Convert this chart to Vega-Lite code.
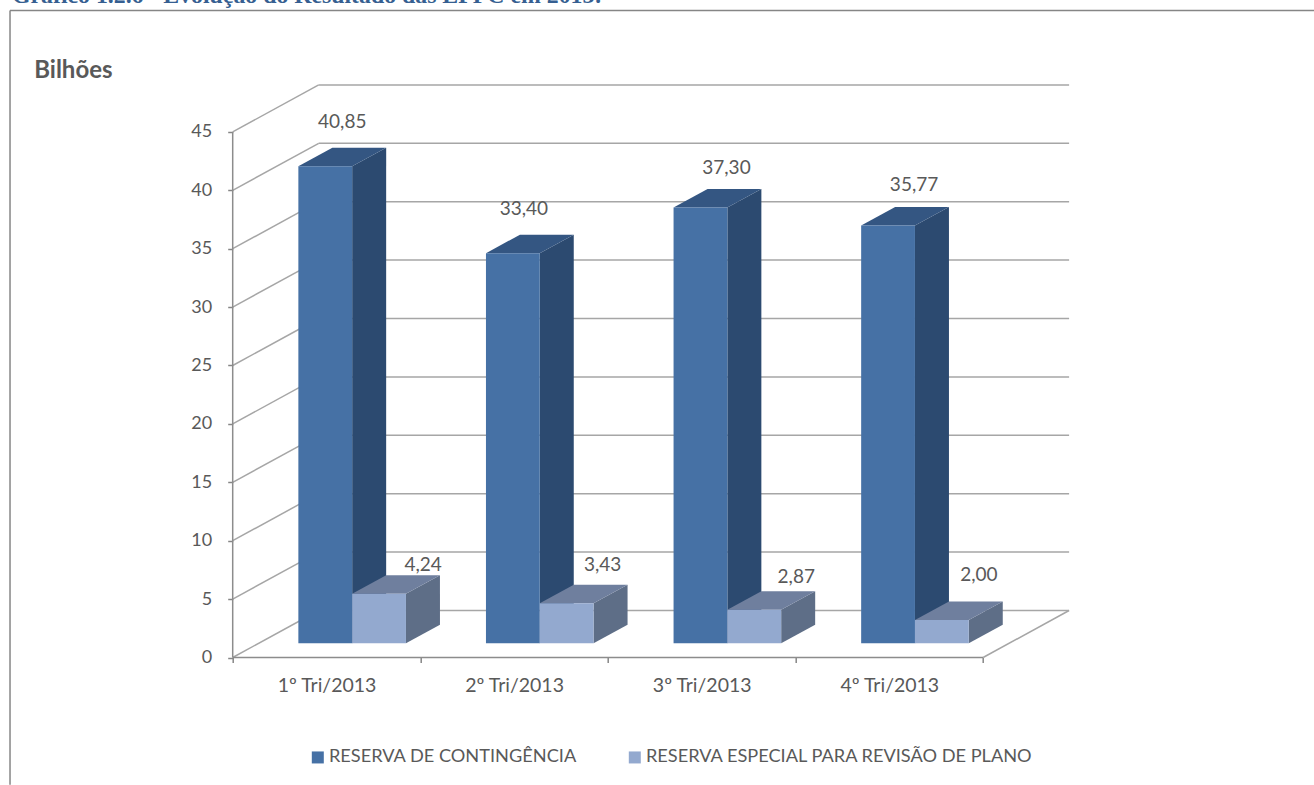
{
"$schema":"https://vega.github.io/schema/vega-lite/v6.json",
"width":837.3,"height":573.5,
"autosize":{"type":"none"},
"padding":{"left":232.7,"top":84,"right":244,"bottom":127.5},
"background":"white",
"config":{"view":{"stroke":null}},
"title":{"text":"Gráfico 1.2.6 - Evolução do Resultado das EFPC em 2013:","anchor":"start","frame":"group","dx":-220.7,"offset":2,"font":"Liberation Serif","fontSize":23.8,"fontWeight":"bold","color":"#365F91"},
"datasets":{
"barras":[
{"trimestre":"1º Tri/2013","serie":"RESERVA DE CONTINGÊNCIA","valor":40.85},
{"trimestre":"2º Tri/2013","serie":"RESERVA DE CONTINGÊNCIA","valor":33.40},
{"trimestre":"3º Tri/2013","serie":"RESERVA DE CONTINGÊNCIA","valor":37.30},
{"trimestre":"4º Tri/2013","serie":"RESERVA DE CONTINGÊNCIA","valor":35.77},
{"trimestre":"1º Tri/2013","serie":"RESERVA ESPECIAL PARA REVISÃO DE PLANO","valor":4.24},
{"trimestre":"2º Tri/2013","serie":"RESERVA ESPECIAL PARA REVISÃO DE PLANO","valor":3.43},
{"trimestre":"3º Tri/2013","serie":"RESERVA ESPECIAL PARA REVISÃO DE PLANO","valor":2.87},
{"trimestre":"4º Tri/2013","serie":"RESERVA ESPECIAL PARA REVISÃO DE PLANO","valor":2.00}
],
"grade":[{"v":0},{"v":5},{"v":10},{"v":15},{"v":20},{"v":25},{"v":30},{"v":35},{"v":40},{"v":45}]
},
"layer":[
{"data":{"name":"grade"},
 "mark":{"type":"rule","color":"#A6A6A6","strokeWidth":1.5,"x2Offset":86,"y2Offset":-47},
 "encoding":{
  "x":{"datum":0,"type":"quantitative","scale":{"domain":[0,4.4632],"nice":false,"zero":false},
   "axis":{"values":[0,0.5,1,1.5,2,2.5,3,3.5,4],"title":null,"domain":false,"grid":false,"tickSize":5,"tickWidth":1.5,"tickColor":"#868686",
    "tickOpacity":{"condition":{"test":"datum.value%1==0","value":1},"value":0},
    "labelExpr":"datum.value%1==0?'':(floor(datum.value)+1)+'º Tri/2013'","labelOverlap":false,"labelFlush":false,"labelPadding":14,"labelFont":"Lato","labelFontSize":19.5,"labelColor":"#595959"}},
  "x2":{"datum":0},
  "y":{"field":"v","type":"quantitative","scale":{"domain":[0,49.1],"nice":false,"zero":false},
   "axis":{"values":[0,5,10,15,20,25,30,35,40,45],"title":"Bilhões","titleX":-199,"titleY":-6.7,"titleAngle":0,"titleAlign":"left","titleBaseline":"alphabetic","titleFont":"Lato","titleFontSize":24,"titleFontWeight":"bold","titleColor":"#595959","domain":false,"grid":false,"tickSize":5,"tickWidth":1.5,"tickColor":"#868686","labelPadding":16,"labelFont":"Lato","labelFontSize":18,"labelColor":"#595959"}},
  "y2":{"field":"v"}
 }},
{"data":{"name":"grade"},
 "mark":{"type":"rule","color":"#A6A6A6","strokeWidth":1.5,"xOffset":86,"x2Offset":86,"yOffset":-47,"y2Offset":-47},
 "encoding":{"x":{"datum":0,"type":"quantitative"},"x2":{"datum":4},"y":{"field":"v","type":"quantitative"},"y2":{"field":"v"}}},
{"mark":{"type":"rule","color":"#A6A6A6","strokeWidth":1.5,"x2Offset":86,"y2Offset":-47},"data":{"values":[{"v":0}]},
 "encoding":{"x":{"datum":4,"type":"quantitative"},"x2":{"datum":4},"y":{"field":"v","type":"quantitative"},"y2":{"field":"v"}}},
{"mark":{"type":"rule","color":"#8C8C8C","strokeWidth":1.5},"data":{"values":[{"v":0}]},
 "encoding":{"x":{"datum":0,"type":"quantitative"},"x2":{"datum":4},"y":{"field":"v","type":"quantitative"},"y2":{"field":"v"}}},
{"mark":{"type":"rule","color":"#8C8C8C","strokeWidth":1.5},"data":{"values":[{"v":0}]},
 "encoding":{"x":{"datum":0,"type":"quantitative"},"y":{"datum":0,"type":"quantitative"},"y2":{"datum":45}}},
{"mark":{"type":"rule","color":"#868686","strokeWidth":1.5},"data":{"values":[{"v":0}]},
 "encoding":{"x":{"datum":-1.187,"type":"quantitative"},"x2":{"datum":5.764},"y":{"datum":55.4,"type":"quantitative"}}},
{"mark":{"type":"rule","color":"#868686","strokeWidth":1.5},"data":{"values":[{"v":0}]},
 "encoding":{"x":{"datum":-1.187,"type":"quantitative"},"y":{"datum":55.4,"type":"quantitative"},"y2":{"datum":-10.9}}},
{"data":{"name":"barras"},
 "transform":[
  {"calculate":"parseInt(datum.trimestre[0])-1","as":"i"},
  {"calculate":"datum.serie=='RESERVA DE CONTINGÊNCIA'?0:1","as":"s"},
  {"calculate":"datum.i+0.35+datum.s*0.2868","as":"x0"},
  {"calculate":"datum.x0+0.2868","as":"x1"},
  {"calculate":"datum.valor+1.216","as":"topo"},
  {"calculate":"[0,1]","as":"d"},
  {"flatten":["d"]},
  {"calculate":"datum.trimestre+datum.serie","as":"chave"},
  {"calculate":"datum.x1+datum.d*0.1812","as":"lx"},
  {"calculate":"datum.topo+datum.d*1.584","as":"ly"},
  {"calculate":"1.216+datum.d*1.584","as":"ly2"},
  {"calculate":"datum.x0+datum.d*0.1812","as":"tx0"},
  {"calculate":"datum.x1+datum.d*0.1812","as":"tx1"},
  {"calculate":"replace(format(datum.valor,'.2f'),'.',',')","as":"rotulo"},
  {"calculate":"datum.i+datum.s*4","as":"n"},
  {"calculate":"(datum.x0+datum.x1)/2+[17,11,26,26,44,36,42,37][datum.n]/187.6","as":"rx"},
  {"calculate":"datum.topo+[44.5,44,39.6,40.5,28.8,38.2,32.8,45][datum.n]/11.68","as":"ry"}
 ],
 "layer":[
  {"mark":{"type":"area","orient":"vertical"},
   "encoding":{"x":{"field":"lx","type":"quantitative"},"y":{"field":"ly","type":"quantitative","stack":null},"y2":{"field":"ly2"},"detail":{"field":"chave"},
    "color":{"condition":{"test":"datum.s==0","value":"#2C4A70"},"value":"#5E6E87"}}},
  {"mark":{"type":"area","orient":"horizontal"},
   "encoding":{"y":{"field":"ly","type":"quantitative","stack":null},"x":{"field":"tx0","type":"quantitative"},"x2":{"field":"tx1"},"detail":{"field":"chave"},
    "color":{"condition":{"test":"datum.s==0","value":"#345682"},"value":"#6F7F9E"}}},
  {"transform":[{"filter":"datum.d==0"}],
   "mark":{"type":"rect"},
   "encoding":{"x":{"field":"x0","type":"quantitative"},"x2":{"field":"x1"},"y":{"field":"topo","type":"quantitative"},"y2":{"datum":1.216},
    "color":{"field":"serie","type":"nominal","scale":{"domain":["RESERVA DE CONTINGÊNCIA","RESERVA ESPECIAL PARA REVISÃO DE PLANO"],"range":["#4671A5","#93A9CF"]},
     "legend":{"title":null,"orient":"none","legendX":76,"legendY":664,"direction":"horizontal","columns":2,"symbolType":"square","symbolSize":144,"symbolStrokeWidth":0,"labelFont":"Lato","labelFontSize":18.2,"labelColor":"#595959","labelOffset":2,"columnPadding":48,"labelLimit":500}}}},
  {"transform":[{"filter":"datum.d==0"}],
   "mark":{"type":"text","font":"Lato","fontSize":19,"color":"#595959","baseline":"middle","align":"center"},
   "encoding":{"x":{"field":"rx","type":"quantitative"},"y":{"field":"ry","type":"quantitative"},"text":{"field":"rotulo"}}}
 ]}
]
}
